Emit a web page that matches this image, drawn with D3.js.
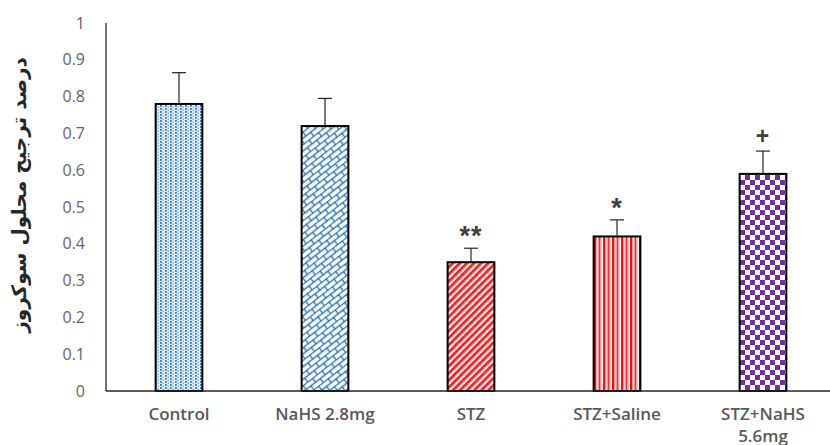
<!DOCTYPE html>
<html>
<head>
    <meta charset="utf-8">
    <script src="https://d3js.org/d3.v7.min.js"></script>
    <style>
        body { margin: 0; background: #fff; }
    </style>
</head>
<body>
    <svg id="chart" width="830" height="445"></svg>
    <script>
        // data
        const groups = ["Control", "NaHS 2.8mg", "STZ", "STZ+Saline", "STZ+NaHS 5.6mg"]
        const means  = [0.78, 0.72, 0.35, 0.42, 0.59]
        const errors = [0.085, 0.075, 0.038, 0.045, 0.062]
        const marks  = ["", "", "**", "*", "+"]
        const yTicks = [0, 0.1, 0.2, 0.3, 0.4, 0.5, 0.6, 0.7, 0.8, 0.9, 1]
        const fills  = ["dots", "scales", "diag", "vstripes", "checker"]

        let svg = d3.select("#chart"),
            margin = {top: 23, left: 106, bottom: 54, right: -6},
            width = +svg.attr("width"),
            height = +svg.attr("height");

        let x = d3.scaleBand()
            .domain(groups)
            .range([margin.left, width - margin.right])
            .paddingInner(0.68)
            .paddingOuter(0.34)

        let y = d3.scaleLinear()
            .domain([0, 1])
            .range([height - margin.bottom, margin.top])

        // patterns
        let defs = svg.append("defs")

        let p1 = defs.append("pattern").attr("id", "dots")
            .attr("patternUnits", "userSpaceOnUse").attr("width", 5).attr("height", 3)
        p1.append("rect").attr("width", 5).attr("height", 3).attr("fill", "#e6f0f9")
        p1.append("rect").attr("x", 0).attr("y", 0).attr("width", 1.8).attr("height", 1.8).attr("fill", "#2e75b6")
        p1.append("rect").attr("x", 2.5).attr("y", 1.5).attr("width", 1.5).attr("height", 1.5).attr("fill", "#7fadd8")

        let p2 = defs.append("pattern").attr("id", "scales")
            .attr("patternUnits", "userSpaceOnUse").attr("width", 12).attr("height", 10)
            .attr("patternTransform", "rotate(-38)")
        p2.append("rect").attr("width", 12).attr("height", 10).attr("fill", "#fff")
        p2.append("path")
            .attr("d", "M0,0.5 H12 M0,5.5 H12 M1,0.5 Q2,3 1,5.5 M7,5.5 Q8,8 7,10.5")
            .attr("fill", "none").attr("stroke", "#2e75b6").attr("stroke-width", 1.3)

        let p3 = defs.append("pattern").attr("id", "diag")
            .attr("patternUnits", "userSpaceOnUse").attr("width", 5).attr("height", 5)
            .attr("patternTransform", "rotate(45)")
        p3.append("rect").attr("width", 5).attr("height", 5).attr("fill", "#fde8e8")
        p3.append("rect").attr("width", 2.6).attr("height", 5).attr("fill", "#ee1c1c")

        let p4 = defs.append("pattern").attr("id", "vstripes")
            .attr("patternUnits", "userSpaceOnUse").attr("width", 9).attr("height", 4)
        p4.append("rect").attr("width", 9).attr("height", 4).attr("fill", "#fff")
        p4.append("rect").attr("x", 0).attr("width", 2).attr("height", 4).attr("fill", "#ee1111")
        p4.append("rect").attr("x", 2).attr("width", 1.5).attr("height", 4).attr("fill", "#f3a0a0")
        p4.append("rect").attr("x", 4.5).attr("width", 1.6).attr("height", 4).attr("fill", "#f03030")
        p4.append("rect").attr("x", 6.1).attr("width", 1.4).attr("height", 4).attr("fill", "#e99090")

        let p5 = defs.append("pattern").attr("id", "checker")
            .attr("patternUnits", "userSpaceOnUse").attr("width", 10).attr("height", 10)
        p5.append("rect").attr("width", 10).attr("height", 10).attr("fill", "#fff")
        p5.append("rect").attr("width", 5).attr("height", 5).attr("fill", "#7030a0")
        p5.append("rect").attr("x", 5).attr("y", 5).attr("width", 5).attr("height", 5).attr("fill", "#7030a0")

        // y axis labels (no ticks)
        let yAxis = svg.append("g")
            .attr("transform", `translate(${margin.left},0)`)
            .call(d3.axisLeft(y).tickValues(yTicks).tickSize(0).tickPadding(21).tickFormat(d3.format("")))
        yAxis.select(".domain").remove()
        yAxis.selectAll("text")
            .attr("fill", "#666")
            .style("font", "16px 'Open Sans', sans-serif")

        // bars
        svg.selectAll(".bar")
            .data(groups)
            .enter().append("rect")
            .attr("class", "bar")
            .attr("x", d => x(d))
            .attr("width", x.bandwidth())
            .attr("y", (d, i) => y(means[i]))
            .attr("height", (d, i) => y(0) - y(means[i]))
            .attr("fill", (d, i) => `url(#${fills[i]})`)
            .attr("stroke", "#000")
            .attr("stroke-width", 2)

        // error bars (upper only)
        let err = svg.selectAll(".err")
            .data(groups)
            .enter().append("g")
            .attr("class", "err")
            .attr("stroke", "#222")
            .attr("stroke-width", 1.2)

        err.append("line")
            .attr("x1", d => x(d) + x.bandwidth() / 2)
            .attr("x2", d => x(d) + x.bandwidth() / 2)
            .attr("y1", (d, i) => y(means[i]) - 1)
            .attr("y2", (d, i) => y(means[i] + errors[i]))

        err.append("line")
            .attr("x1", d => x(d) + x.bandwidth() / 2 - 7)
            .attr("x2", d => x(d) + x.bandwidth() / 2 + 7)
            .attr("y1", (d, i) => y(means[i] + errors[i]))
            .attr("y2", (d, i) => y(means[i] + errors[i]))

        // significance marks
        svg.selectAll(".mark")
            .data(groups)
            .enter().append("text")
            .attr("class", "mark")
            .attr("x", d => x(d) + x.bandwidth() / 2)
            .attr("y", (d, i) => y(means[i] + errors[i]) - (marks[i] == "+" ? 7 : 3))
            .attr("text-anchor", "middle")
            .attr("fill", "#404040")
            .style("font", (d, i) => marks[i] == "+" ? "bold 23px 'Liberation Sans', sans-serif" : "bold 27px 'Liberation Sans', sans-serif")
            .style("letter-spacing", "1px")
            .text((d, i) => marks[i])

        // axis lines
        svg.append("line")
            .attr("x1", margin.left).attr("x2", margin.left)
            .attr("y1", y(1)).attr("y2", y(0))
            .attr("stroke", "#262626").attr("stroke-width", 1.3)
        svg.append("line")
            .attr("x1", margin.left).attr("x2", width)
            .attr("y1", y(0)).attr("y2", y(0))
            .attr("stroke", "#262626").attr("stroke-width", 1.5)

        // x labels, last one wraps
        let xl = svg.selectAll(".xlab")
            .data(groups)
            .enter().append("text")
            .attr("class", "xlab")
            .attr("x", d => x(d) + x.bandwidth() / 2)
            .attr("y", y(0) + 29)
            .attr("text-anchor", "middle")
            .attr("fill", "#595959")
            .style("font", "600 17px 'Open Sans', sans-serif")

        xl.each(function(d) {
            let parts = d == "STZ+NaHS 5.6mg" ? ["STZ+NaHS", "5.6mg"] : [d]
            d3.select(this).selectAll("tspan")
                .data(parts)
                .enter().append("tspan")
                .attr("x", x(d) + x.bandwidth() / 2)
                .attr("dy", (p, j) => j == 0 ? 0 : 22)
                .text(p => p)
        })

        // y title
        svg.append("text")
            .attr("transform", `translate(26,${(y(0) + y(1)) / 2 - 12}) rotate(-90)`)
            .attr("text-anchor", "middle")
            .attr("fill", "#262626")
            .style("font", "bold 20px 'DejaVu Sans', sans-serif")
            .text("درصد ترجیح محلول سوکروز")
    </script>
</body>
</html>
